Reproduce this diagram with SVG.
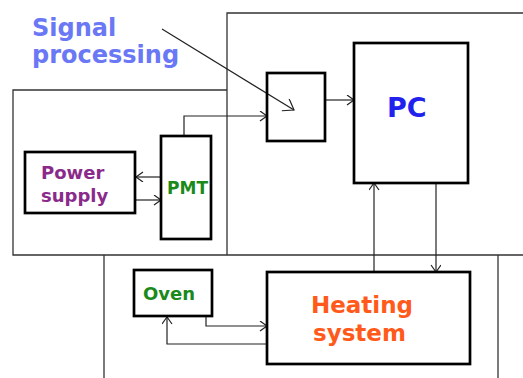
<svg xmlns="http://www.w3.org/2000/svg" width="523" height="378" viewBox="0 0 523 378">
<style>
.frame{fill:none;stroke:#333;stroke-width:1.3}
.box{fill:none;stroke:#000;stroke-width:2.7}
.conn{fill:none;stroke:#222;stroke-width:1.2}
.t{font-family:"DejaVu Sans",Verdana,sans-serif;font-weight:bold}
</style>
<defs>
<marker id="ah" markerUnits="userSpaceOnUse" markerWidth="12" markerHeight="12" refX="8" refY="5" orient="auto">
<path d="M1,0 L8,5 L1,10" fill="none" stroke="#222" stroke-width="1.2"/>
</marker>
<marker id="ahL" markerUnits="userSpaceOnUse" markerWidth="16" markerHeight="16" refX="12" refY="7" orient="auto">
<path d="M2,0 L12,7 L2,14" fill="none" stroke="#222" stroke-width="1.2"/>
</marker>
</defs>
<rect width="523" height="378" fill="#fff"/>
<g id="frames">
<path class="frame" d="M227,255 V13 H523"/>
<path class="frame" d="M227,90 H13 V255 H523"/>
<path class="frame" d="M104,255 V378"/>
<path class="frame" d="M498,255 V378"/>
</g>
<g id="connectors">
<path class="conn" d="M162,29 L294,110" marker-end="url(#ahL)"/>
<path class="conn" d="M184,136 V116 H267" marker-end="url(#ah)"/>
<path class="conn" d="M325,100 H354" marker-end="url(#ah)"/>
<path class="conn" d="M161,177 H136" marker-end="url(#ah)"/>
<path class="conn" d="M136,200 H161" marker-end="url(#ah)"/>
<path class="conn" d="M374,272 V183" marker-end="url(#ah)"/>
<path class="conn" d="M436,183 V272" marker-end="url(#ah)"/>
<path class="conn" d="M206,317 V326 H267" marker-end="url(#ah)"/>
<path class="conn" d="M267,344 H167 V317" marker-end="url(#ah)"/>
</g>
<g id="label-signal">
<text class="t" x="32" y="36" font-size="24" fill="#6a78f5">Signal</text>
<text class="t" x="32" y="63" font-size="24" fill="#6a78f5">processing</text>
</g>
<g id="signal-box">
<rect class="box" x="267" y="73" width="58" height="68"/>
</g>
<g id="pc">
<rect class="box" x="354" y="43" width="114" height="140"/>
<text class="t" x="387" y="117" font-size="27" fill="#2222ee">PC</text>
</g>
<g id="pmt">
<rect class="box" x="161" y="136" width="50" height="103"/>
<text class="t" x="167" y="194" font-size="17" fill="#1a8a1a">PMT</text>
</g>
<g id="power-supply">
<rect class="box" x="25" y="152" width="110" height="61"/>
<text class="t" x="41" y="179" font-size="18" fill="#8a2a8a">Power</text>
<text class="t" x="41" y="202" font-size="18" fill="#8a2a8a">supply</text>
</g>
<g id="oven">
<rect class="box" x="134" y="270" width="78" height="46"/>
<text class="t" x="143" y="300" font-size="18" fill="#1a8a1a">Oven</text>
</g>
<g id="heating">
<rect class="box" x="267" y="272" width="203" height="92"/>
<text class="t" x="311" y="313" font-size="23" fill="#ff5a1a">Heating</text>
<text class="t" x="313" y="341" font-size="23" fill="#ff5a1a">system</text>
</g>
</svg>
